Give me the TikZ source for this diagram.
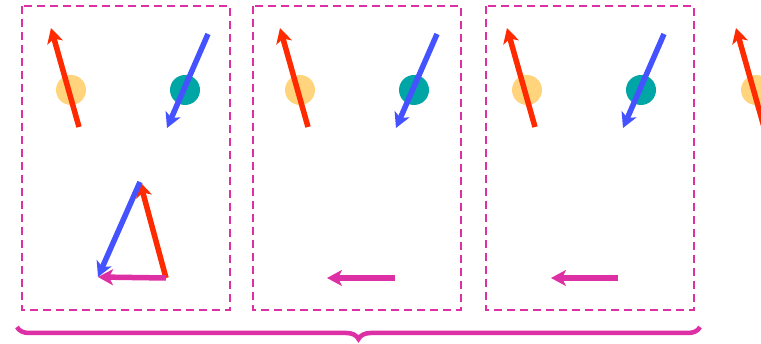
\documentclass[tikz,border=0pt]{standalone}
\usetikzlibrary{arrows.meta,decorations.pathreplacing}
\definecolor{vred}{HTML}{FF2A00}
\definecolor{vblue}{HTML}{4452FF}
\definecolor{vmag}{HTML}{DD30A5}
\definecolor{vyel}{HTML}{FFD47C}
\definecolor{vteal}{HTML}{00A5A5}
\tikzset{
  vec/.style={line width=5.5pt,-{Stealth[length=15pt,width=16pt,inset=4pt]}},
  ball/.style={circle,inner sep=0pt,minimum size=30pt},
  panelbox/.style={draw=vmag,line width=2.8pt,dash pattern=on 8pt off 5pt}
}
\begin{document}
\begin{tikzpicture}[x=1pt,y=-1pt]
	\useasboundingbox (0,0) rectangle (761,344);
	\clip (0,0) rectangle (761,344);
	% dashed frames
	\foreach \x in {22,253,486}\draw[panelbox] (\x,6) rectangle +(208,304);
	% the two balls and their vectors
	\foreach \i/\d in {1/0,2/229,3/456,4/685}{
		\node[ball,fill=vyel] (y\i) at (71+\d,90) {};
		\path (79+\d,127) coordinate (ra\i) (51+\d,28) coordinate (rb\i);
		\draw[vec,vred] (ra\i)--(rb\i);
	}
	\foreach \i/\d in {1/0,2/229,3/456}{
		\node[ball,fill=vteal] (t\i) at (185+\d,90) {};
		\path (208+\d,34) coordinate (ba\i) (167+\d,128) coordinate (bb\i);
		\draw[vec,vblue] (ba\i)--(bb\i);
	}
	% sum in the first frame
	\path
	(166,278) coordinate (P)
	(140,182) coordinate (Q)
	(98,277) coordinate (S)
	(395,278) coordinate (P2)
	(327,278) coordinate (S2)
	(618,278) coordinate (P3)
	(551,278) coordinate (S3)
	;
	\draw[vec,vred] (P)--(Q);
	\draw[vec,vblue] (Q)--(S);
	\draw[vec,vmag] (P)--(S);
	\draw[vec,vmag] (P2)--(S2);
	\draw[vec,vmag] (P3)--(S3);
	% brace
	\path (17,327) coordinate (bl) (700,327) coordinate (br);
	\draw[vmag,line width=4.5pt,decorate,decoration={brace,mirror,amplitude=12pt}] (bl)--(br);
\end{tikzpicture}
\end{document}
